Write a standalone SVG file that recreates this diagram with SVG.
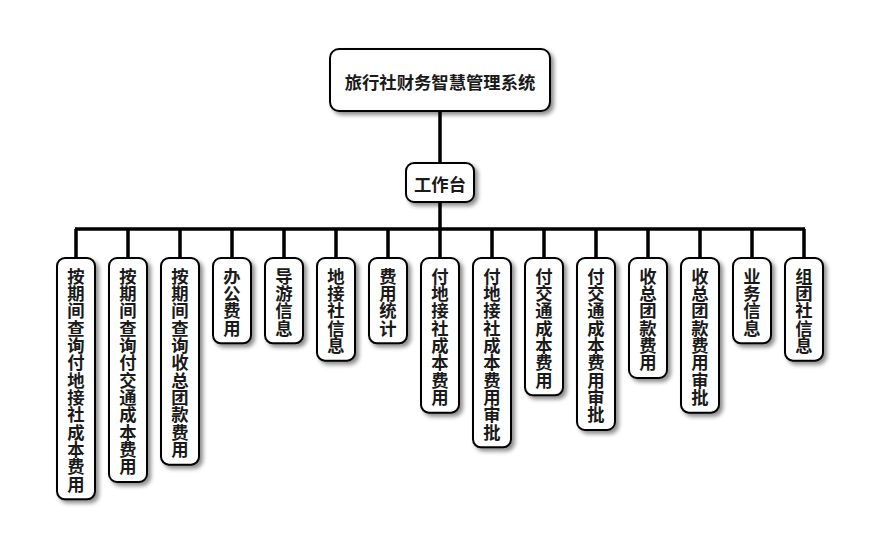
<svg xmlns="http://www.w3.org/2000/svg" width="880" height="560" viewBox="0 0 880 560">
<defs>
<filter id="sh" x="-30%" y="-30%" width="160%" height="160%">
<feDropShadow dx="3" dy="3" stdDeviation="2" flood-color="#000" flood-opacity="0.45"/>
</filter>
</defs>
<style>
.box{fill:#fff;stroke:#000;stroke-width:2;filter:url(#sh)}
.t{font-family:"Noto Sans CJK SC","Noto Sans",sans-serif;font-weight:bold;font-size:17.33px;fill:#1a1a1a;text-anchor:middle;dominant-baseline:central}
.ln{stroke:#000;stroke-width:3.5;fill:none}
</style>
<rect width="880" height="560" fill="#fff"/>
<g id="connectors">
<path class="ln" d="M440 111V163M440 202V229M75 229H805"/>
<path class="ln" d="M76 229V258M128 229V258M180 229V258M232 229V258M284 229V258M336 229V258M388 229V258M440 229V258M492 229V258M544 229V258M596 229V258M648 229V258M700 229V258M752 229V258M804 229V258"/>
</g>
<g id="root">
<rect class="box" x="330" y="49" width="220" height="62" rx="9"/>
<text class="t" x="440" y="81">旅行社财务智慧管理系统</text>
</g>
<g id="workbench">
<rect class="box" x="406" y="163" width="68" height="39" rx="8"/>
<text class="t" x="440" y="183">工作台</text>
</g>
<g id="n1">
<rect class="box" x="57" y="258" width="38" height="241.33" rx="8"/>
<text class="t"><tspan x="76" y="274.67">按</tspan><tspan x="76" y="292">期</tspan><tspan x="76" y="309.33">间</tspan><tspan x="76" y="326.67">查</tspan><tspan x="76" y="344">询</tspan><tspan x="76" y="361.33">付</tspan><tspan x="76" y="378.67">地</tspan><tspan x="76" y="396">接</tspan><tspan x="76" y="413.33">社</tspan><tspan x="76" y="430.67">成</tspan><tspan x="76" y="448">本</tspan><tspan x="76" y="465.33">费</tspan><tspan x="76" y="482.67">用</tspan></text>
</g>
<g id="n2">
<rect class="box" x="109" y="258" width="38" height="224" rx="8"/>
<text class="t"><tspan x="128" y="274.67">按</tspan><tspan x="128" y="292">期</tspan><tspan x="128" y="309.33">间</tspan><tspan x="128" y="326.67">查</tspan><tspan x="128" y="344">询</tspan><tspan x="128" y="361.33">付</tspan><tspan x="128" y="378.67">交</tspan><tspan x="128" y="396">通</tspan><tspan x="128" y="413.33">成</tspan><tspan x="128" y="430.67">本</tspan><tspan x="128" y="448">费</tspan><tspan x="128" y="465.33">用</tspan></text>
</g>
<g id="n3">
<rect class="box" x="161" y="258" width="38" height="206.67" rx="8"/>
<text class="t"><tspan x="180" y="274.67">按</tspan><tspan x="180" y="292">期</tspan><tspan x="180" y="309.33">间</tspan><tspan x="180" y="326.67">查</tspan><tspan x="180" y="344">询</tspan><tspan x="180" y="361.33">收</tspan><tspan x="180" y="378.67">总</tspan><tspan x="180" y="396">团</tspan><tspan x="180" y="413.33">款</tspan><tspan x="180" y="430.67">费</tspan><tspan x="180" y="448">用</tspan></text>
</g>
<g id="n4">
<rect class="box" x="213" y="258" width="38" height="85.33" rx="8"/>
<text class="t"><tspan x="232" y="274.67">办</tspan><tspan x="232" y="292">公</tspan><tspan x="232" y="309.33">费</tspan><tspan x="232" y="326.67">用</tspan></text>
</g>
<g id="n5">
<rect class="box" x="265" y="258" width="38" height="85.33" rx="8"/>
<text class="t"><tspan x="284" y="274.67">导</tspan><tspan x="284" y="292">游</tspan><tspan x="284" y="309.33">信</tspan><tspan x="284" y="326.67">息</tspan></text>
</g>
<g id="n6">
<rect class="box" x="317" y="258" width="38" height="102.67" rx="8"/>
<text class="t"><tspan x="336" y="274.67">地</tspan><tspan x="336" y="292">接</tspan><tspan x="336" y="309.33">社</tspan><tspan x="336" y="326.67">信</tspan><tspan x="336" y="344">息</tspan></text>
</g>
<g id="n7">
<rect class="box" x="369" y="258" width="38" height="85.33" rx="8"/>
<text class="t"><tspan x="388" y="274.67">费</tspan><tspan x="388" y="292">用</tspan><tspan x="388" y="309.33">统</tspan><tspan x="388" y="326.67">计</tspan></text>
</g>
<g id="n8">
<rect class="box" x="421" y="258" width="38" height="154.67" rx="8"/>
<text class="t"><tspan x="440" y="274.67">付</tspan><tspan x="440" y="292">地</tspan><tspan x="440" y="309.33">接</tspan><tspan x="440" y="326.67">社</tspan><tspan x="440" y="344">成</tspan><tspan x="440" y="361.33">本</tspan><tspan x="440" y="378.67">费</tspan><tspan x="440" y="396">用</tspan></text>
</g>
<g id="n9">
<rect class="box" x="473" y="258" width="38" height="189.33" rx="8"/>
<text class="t"><tspan x="492" y="274.67">付</tspan><tspan x="492" y="292">地</tspan><tspan x="492" y="309.33">接</tspan><tspan x="492" y="326.67">社</tspan><tspan x="492" y="344">成</tspan><tspan x="492" y="361.33">本</tspan><tspan x="492" y="378.67">费</tspan><tspan x="492" y="396">用</tspan><tspan x="492" y="413.33">审</tspan><tspan x="492" y="430.67">批</tspan></text>
</g>
<g id="n10">
<rect class="box" x="525" y="258" width="38" height="137.33" rx="8"/>
<text class="t"><tspan x="544" y="274.67">付</tspan><tspan x="544" y="292">交</tspan><tspan x="544" y="309.33">通</tspan><tspan x="544" y="326.67">成</tspan><tspan x="544" y="344">本</tspan><tspan x="544" y="361.33">费</tspan><tspan x="544" y="378.67">用</tspan></text>
</g>
<g id="n11">
<rect class="box" x="577" y="258" width="38" height="172" rx="8"/>
<text class="t"><tspan x="596" y="274.67">付</tspan><tspan x="596" y="292">交</tspan><tspan x="596" y="309.33">通</tspan><tspan x="596" y="326.67">成</tspan><tspan x="596" y="344">本</tspan><tspan x="596" y="361.33">费</tspan><tspan x="596" y="378.67">用</tspan><tspan x="596" y="396">审</tspan><tspan x="596" y="413.33">批</tspan></text>
</g>
<g id="n12">
<rect class="box" x="629" y="258" width="38" height="120" rx="8"/>
<text class="t"><tspan x="648" y="274.67">收</tspan><tspan x="648" y="292">总</tspan><tspan x="648" y="309.33">团</tspan><tspan x="648" y="326.67">款</tspan><tspan x="648" y="344">费</tspan><tspan x="648" y="361.33">用</tspan></text>
</g>
<g id="n13">
<rect class="box" x="681" y="258" width="38" height="154.67" rx="8"/>
<text class="t"><tspan x="700" y="274.67">收</tspan><tspan x="700" y="292">总</tspan><tspan x="700" y="309.33">团</tspan><tspan x="700" y="326.67">款</tspan><tspan x="700" y="344">费</tspan><tspan x="700" y="361.33">用</tspan><tspan x="700" y="378.67">审</tspan><tspan x="700" y="396">批</tspan></text>
</g>
<g id="n14">
<rect class="box" x="733" y="258" width="38" height="85.33" rx="8"/>
<text class="t"><tspan x="752" y="274.67">业</tspan><tspan x="752" y="292">务</tspan><tspan x="752" y="309.33">信</tspan><tspan x="752" y="326.67">息</tspan></text>
</g>
<g id="n15">
<rect class="box" x="785" y="258" width="38" height="102.67" rx="8"/>
<text class="t"><tspan x="804" y="274.67">组</tspan><tspan x="804" y="292">团</tspan><tspan x="804" y="309.33">社</tspan><tspan x="804" y="326.67">信</tspan><tspan x="804" y="344">息</tspan></text>
</g>
</svg>
